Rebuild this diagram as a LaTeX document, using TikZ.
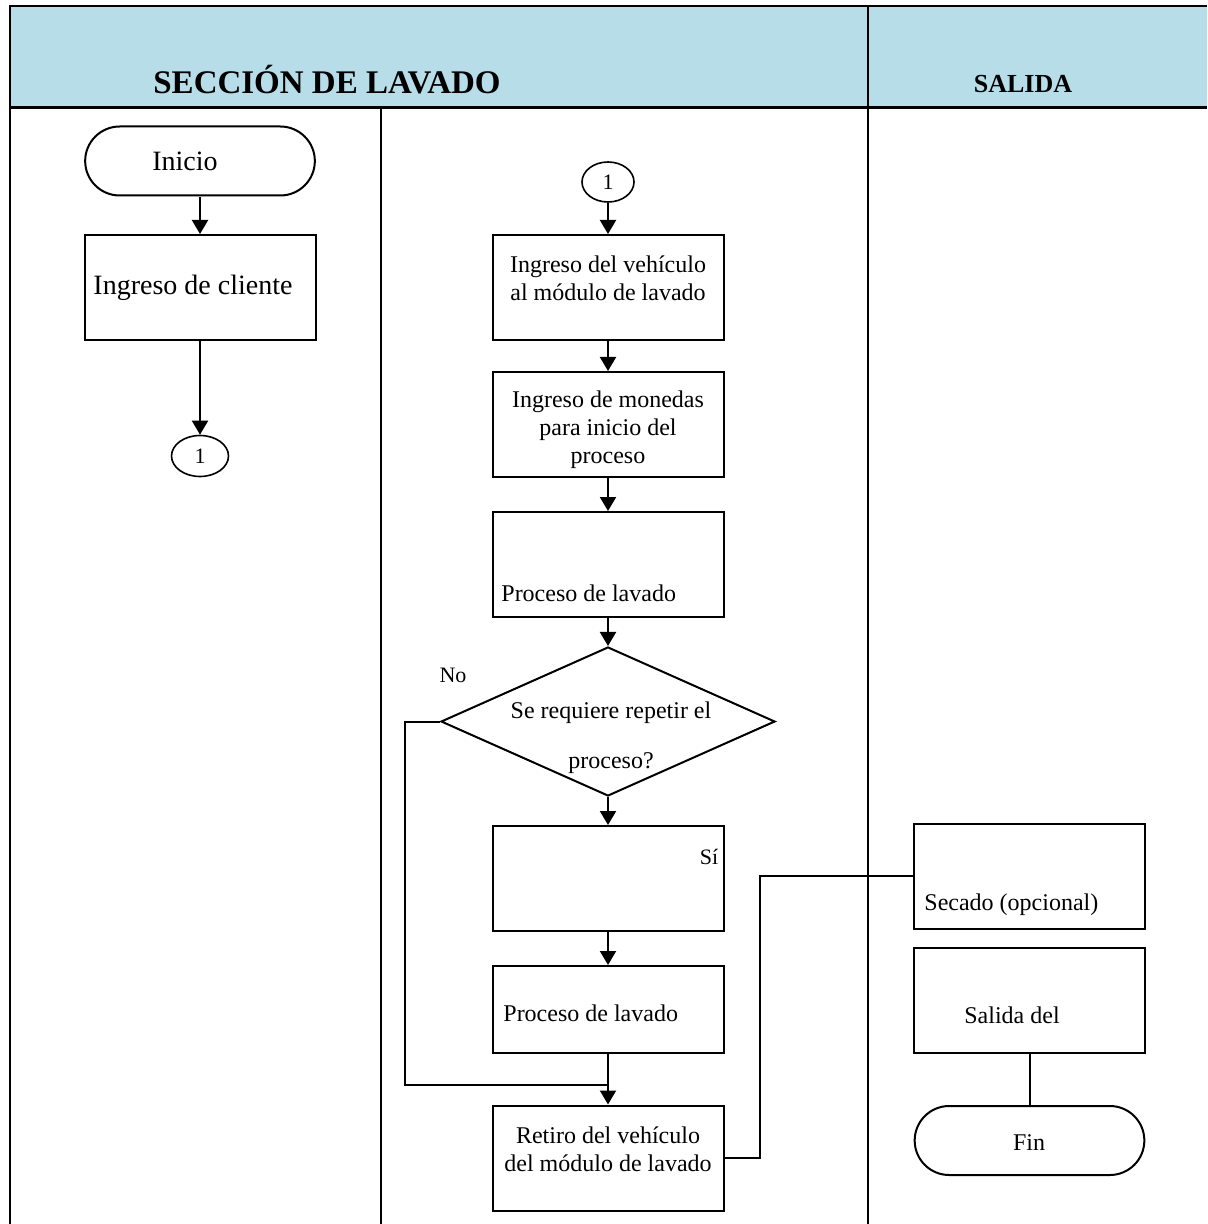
\documentclass[tikz,border=0pt]{standalone}
\usepackage{fontspec}
\setmainfont{Liberation Serif}
\usetikzlibrary{shapes.geometric, shapes.misc, arrows.meta, positioning, calc}
\definecolor{headblue}{RGB}{183,221,232}

\begin{document}
\begin{tikzpicture}[
        x=0.5pt, y=-0.5pt,
        font=\fontsize{12}{14}\selectfont,
        box/.style={rectangle, draw, line width=1pt, minimum width=115.5pt, minimum height=52.5pt, align=center, inner sep=0pt},
        term/.style={rounded rectangle, draw, line width=1pt, minimum width=121.5pt, minimum height=34.5pt},
        conn/.style={ellipse, draw, line width=0.8pt, inner sep=0pt, font=\fontsize{11}{13}\selectfont},
        decision/.style={diamond, draw, line width=1pt, minimum width=167pt, minimum height=74.5pt, inner sep=0pt},
        txt/.style={inner sep=0pt, align=center},
        arrow/.style={-{Triangle[width=8pt, length=7pt]}, line width=1pt},
        line/.style={line width=1pt}
    ]
    \useasboundingbox (0,0) rectangle (1207,1224);

    % Swimlane frame
    \begin{scope}
        \clip (0,0) rectangle (1207,1224);
        \fill[headblue] (10,6) rectangle (1207,108);
        \draw[line] (1207,6) -- (10,6) -- (10,1224);
        \draw[line width=1.5pt] (10,108) -- (1207,108);
        \draw[line] (868,6) -- (868,1224);
        \draw[line] (381,108) -- (381,1224);
    \end{scope}
    \node[font=\fontsize{16.5}{19}\selectfont\bfseries] (hlav) at (327,80) {SECCIÓN DE LAVADO};
    \node[font=\fontsize{13}{15}\selectfont\bfseries] (hsal) at (1023,84) {SALIDA};

    % Left lane
    \node[term] (ini) at (200,161) {};
    \node[txt, font=\fontsize{14}{16}\selectfont] (init) at (185,161) {Inicio};
    \node[box, font=\fontsize{14}{16}\selectfont] (cli) at (200,287.5) {Ingreso de cliente\hspace{7pt}};
    \node[conn, minimum width=28.5pt, minimum height=20.5pt] (c1a) at (200,456) {1};

    \draw[arrow] (ini) -- (cli);
    \draw[arrow] (cli) -- (c1a);

    % Middle lane
    \node[conn, minimum width=26pt, minimum height=20pt] (c1b) at (608,182) {1};
    \node[box] (veh) at (608,287.5) {};
    \node[txt] (veht) at (608,278) {Ingreso del vehículo\\al módulo de lavado};
    \node[box] (mon) at (608,424.5) {};
    \node[txt] (mont) at (608,429.5) {Ingreso de monedas\\para inicio del\\proceso};
    \node[box] (lav1) at (608,564.5) {};
    \node[txt, anchor=west] (lav1t) at (501,593) {Proceso de lavado};

    \node[decision] (rep) at (608,721.5) {};
    \node[txt] (rept) at (611,738) {Se requiere repetir el\\[11pt]proceso?};
    \node[txt, font=\fontsize{11}{13}\selectfont] (no) at (453,675) {No};

    \node[box] (blank) at (608,878.5) {};
    \node[txt, font=\fontsize{11}{13}\selectfont] (si) at (709,857) {Sí};
    \node[box, minimum height=43.5pt] (lav2) at (608,1009.5) {};
    \node[txt, anchor=west] (lav2t) at (503,1013) {Proceso de lavado};
    \node[box] (ret) at (608,1158) {};
    \node[txt] (rett) at (608,1149) {Retiro del vehículo\\del módulo de lavado};
    \coordinate (merge) at (608,1085);

    \draw[arrow] (c1b) -- (veh);
    \draw[arrow] (veh) -- (mon);
    \draw[arrow] (mon) -- (lav1);
    \draw[arrow] (lav1) -- (rep);
    \draw[arrow] (rep) -- (blank);
    \draw[arrow] (blank) -- (lav2);
    \draw[arrow] (lav2) -- (ret);
    \draw[line] (rep.west) -- ++(-35,0) |- (merge);

    % Right lane
    \node[box] (sec) at (1029.5,876) {};
    \node[txt, anchor=west] (sect) at (924,905) {Secado (opcional)};
    \node[box] (sal) at (1029.5,1000.5) {};
    \node[txt] (salt) at (1012,1015) {Salida del};
    \node[term] (fin) at (1029.5,1140.5) {};
    \node[txt] (fint) at (1029,1143) {Fin};

    \draw[line] (ret.east) -- ++(35,0) |- (sec.west);
    \draw[line] (sal) -- (fin);
\end{tikzpicture}
\end{document}
